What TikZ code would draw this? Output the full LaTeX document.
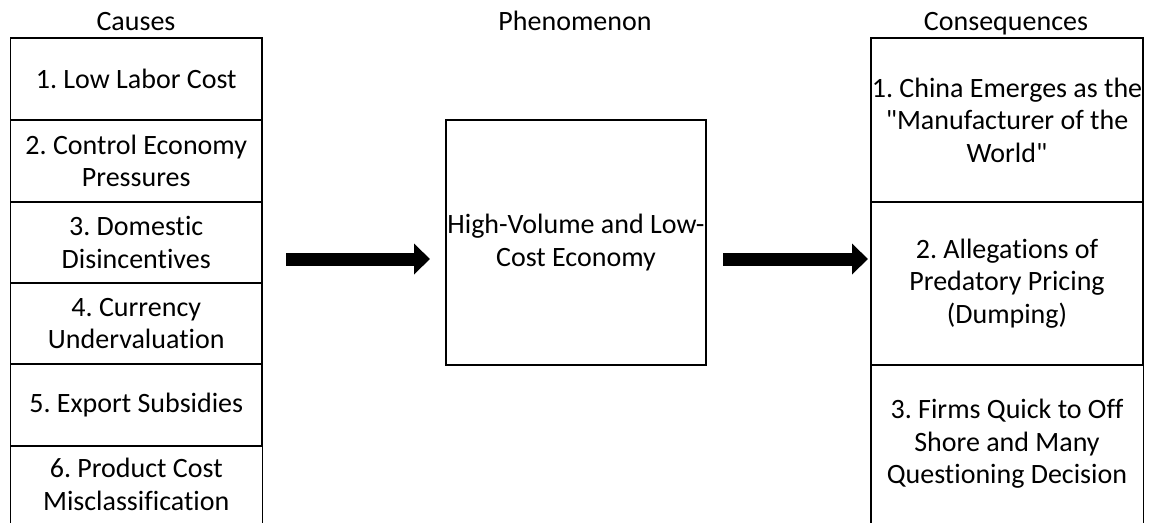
\documentclass[tikz,border=0pt]{standalone}
\usepackage{fontspec}
\setmainfont[Ligatures={NoCommon,TeXOff}]{Carlito}
\usetikzlibrary{arrows.meta}
\frenchspacing
\begin{document}
\begin{tikzpicture}[x=1pt,y=-1pt,
  every node/.style={font=\fontsize{28}{32.5}\selectfont, inner sep=0pt, align=center},
  cell/.style={draw, line width=1.4pt, rectangle},
  opencell/.style={rectangle},
  lcol/.style={minimum width=251.5pt},
  rcol/.style={minimum width=272pt},
  title/.style={anchor=base},
  bigarrow/.style={line width=13pt, -{Triangle[length=16pt,width=30pt]}}
]
\useasboundingbox (0,0) rectangle (1151,523);
% titles
\node[title] (tc) at (136,30) {Causes};
\node[title] (tp) at (575,30) {Phenomenon};
\node[title] (tq) at (1006,30) {Consequences};
% causes
\node[cell,lcol,minimum height=82pt] (c1) at (136.25,79) {1. Low Labor Cost};
\node[cell,lcol,minimum height=82pt] (c2) at (136.25,161) {2. Control Economy\\Pressures};
\node[cell,lcol,minimum height=81pt] (c3) at (136.25,242.5) {3. Domestic\\Disincentives};
\node[cell,lcol,minimum height=81pt] (c4) at (136.25,323.5) {4. Currency\\Undervaluation};
\node[cell,lcol,minimum height=82pt] (c5) at (136.25,405) {5. Export Subsidies};
\node[opencell,lcol,minimum height=77pt] (c6) at (136.25,484.5) {6. Product Cost\\Misclassification};
\draw[line width=1.4pt] (c6.north west) -- (c6.south west);
\draw[line width=1.4pt] (c6.north east) -- (c6.south east);
% phenomenon
\node[cell,minimum width=260pt,minimum height=245pt] (p) at (576,242.5) {High-Volume and Low-\\Cost Economy};
% consequences
\node[cell,rcol,minimum height=164pt] (q1) at (1007,120) {1. China Emerges as the\\"Manufacturer of the\\World"};
\node[cell,rcol,minimum height=163pt] (q2) at (1007,283.5) {2. Allegations of\\Predatory Pricing\\(Dumping)};
\node[opencell,rcol,minimum height=158pt] (q3) at (1007,444) {3. Firms Quick to Off\\Shore and Many\\Questioning Decision};
\draw[line width=1.4pt] (q3.north west) -- (q3.south west);
\draw[line width=1.4pt] (q3.north east) -- (q3.south east);
% arrows
\coordinate (a1s) at (286,259);
\coordinate (a1e) at (430,259);
\coordinate (a2s) at (723,259);
\coordinate (a2e) at (868,259);
\draw[bigarrow] (a1s) -- (a1e);
\draw[bigarrow] (a2s) -- (a2e);
\end{tikzpicture}
\end{document}
